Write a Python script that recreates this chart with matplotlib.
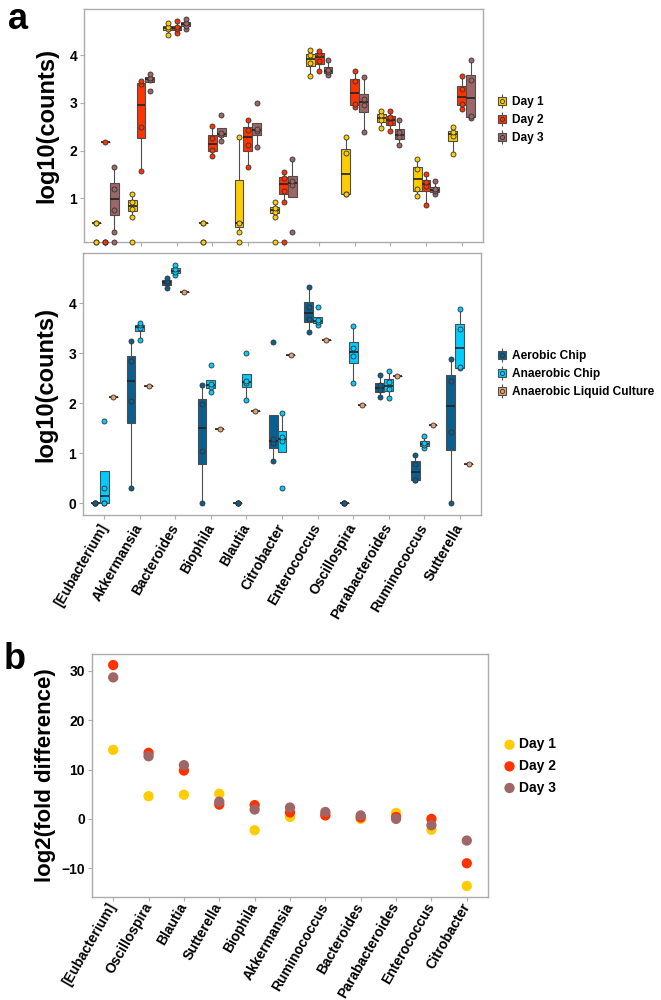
#! /usr/bin/env python3
# -*- coding: utf-8 -*-
import numpy as np
import matplotlib
matplotlib.use('Agg')
import matplotlib.pyplot as plt
from matplotlib.lines import Line2D


##################################################
#################### DATA ########################
##################################################
NEG = -np.inf  # zero counts -> log10(0), drawn on the bottom edge

genera = ['[Eubacterium]', 'Akkermansia', 'Bacteroides', 'Biophila', 'Blautia',
          'Citrobacter', 'Enterococcus', 'Oscillospira', 'Parabacteroides',
          'Ruminococcus', 'Sutterella']

day1_counts = [
    [0.48, 0.48, NEG, NEG],
    [0.60, 0.77, 0.92, 1.09, NEG],
    [4.43, 4.56, 4.60, 4.68],
    [0.48, 0.48, NEG, NEG],
    [0.30, 0.47, 2.29, NEG],
    [0.60, 0.72, 0.79, 0.92, NEG],
    [3.56, 3.84, 4.00, 4.11],
    [1.08, 1.08, 1.95, 2.28],
    [2.48, 2.63, 2.75, 2.82],
    [1.04, 1.19, 1.61, 1.82],
    [1.92, 2.30, 2.38, 2.49],
]
day2_counts = [
    [2.18, NEG, NEG, NEG],
    [1.58, 2.49, 3.40, 3.45],
    [4.47, 4.56, 4.59, 4.71],
    [1.89, 2.02, 2.27, 2.51],
    [1.66, 2.11, 2.44, 2.64],
    [0.91, 1.16, 1.42, 1.54, NEG],
    [3.66, 3.88, 4.03, 4.09],
    [2.92, 2.98, 3.45, 3.66],
    [2.41, 2.58, 2.70, 2.83],
    [0.85, 1.25, 1.33, 1.51],
    [2.87, 2.97, 3.29, 3.57],
]
day3_counts = [
    [0.30, 0.75, 1.20, 1.65, NEG],
    [3.24, 3.49, 3.53, 3.60],
    [4.56, 4.62, 4.68, 4.75],
    [2.21, 2.33, 2.37, 2.75],
    [2.07, 2.40, 2.45, 3.00],
    [0.30, 1.27, 1.35, 1.82],
    [3.58, 3.64, 3.70, 3.91],
    [2.39, 2.95, 3.08, 3.54],
    [2.11, 2.28, 2.38, 2.65],
    [1.08, 1.14, 1.20, 1.35],
    [2.69, 2.72, 3.49, 3.89],
]

aerobic_chip = [
    [0, 0, 0, 0],
    [0.30, 2.05, 2.85, 3.25],
    [4.30, 4.40, 4.45, 4.51],
    [0, 1.04, 1.98, 2.36],
    [0, 0, 0, 0],
    [0.85, 1.20, 1.28, 3.23],
    [3.43, 3.69, 3.92, 4.33],
    [0, 0, 0, 0],
    [2.13, 2.26, 2.36, 2.57],
    [0.47, 0.47, 0.79, 0.96],
    [0, 1.43, 2.45, 2.88],
]
anaerobic_chip = [
    [0, 0, 0.30, 1.65],
    [3.27, 3.50, 3.56, 3.61],
    [4.56, 4.62, 4.68, 4.77],
    [2.23, 2.33, 2.38, 2.76],
    [2.07, 2.41, 2.45, 3.01],
    [0.30, 1.25, 1.33, 1.80],
    [3.57, 3.63, 3.67, 3.92],
    [2.40, 2.95, 3.11, 3.54],
    [2.11, 2.28, 2.42, 2.65],
    [1.10, 1.16, 1.20, 1.35],
    [2.70, 2.72, 3.49, 3.89],
]
liquid_culture = [[2.12], [2.34], [4.23], [1.48], [1.85], [2.96], [3.27],
                  [1.97], [2.54], [1.56], [0.78]]

fold_genera = ['[Eubacterium]', 'Oscillospira', 'Blautia', 'Sutterella',
               'Biophila', 'Akkermansia', 'Ruminococcus', 'Bacteroides',
               'Parabacteroides', 'Enterococcus', 'Citrobacter']
fold_day1 = [14.0, 4.6, 4.9, 5.1, -2.3, 0.4, 0.9, 0.0, 1.2, -2.2, -13.6]
fold_day2 = [31.2, 13.4, 9.8, 2.9, 2.8, 1.3, 0.7, 0.3, 0.4, 0.0, -9.0]
fold_day3 = [28.7, 12.7, 10.9, 3.5, 1.9, 2.3, 1.4, 0.7, 0.0, -1.3, -4.4]

day_labels = ['Day 1', 'Day 2', 'Day 3']
day_colors = ['#FFCC00', '#FF3300', '#9E6666']
cond_labels = ['Aerobic Chip', 'Anaerobic Chip', 'Anaerobic Liquid Culture']
cond_colors = ['#0B5F8F', '#00CCFF', '#E3A26D']

plt.rcParams['font.family'] = ['Liberation Sans', 'DejaVu Sans']
plt.rcParams['font.weight'] = 'bold'
plt.rcParams['axes.labelweight'] = 'bold'

EDGE = '#4D4D4D'
FRAME = '#ABABAB'


##################################################
#################### FUNCTIONS ###################
##################################################


def style_axes(ax):
    for sp in ax.spines.values():
        sp.set_color(FRAME)
        sp.set_linewidth(1.0)
    ax.tick_params(axis='both', direction='out', length=3, width=0.8,
                   color=FRAME, labelsize=10, labelcolor='black', pad=2)
    for lab in ax.get_yticklabels():
        lab.set_fontweight('bold')


def draw_boxes(ax, groups, colors, ybottom):
    n = len(groups)
    offsets = (np.arange(n) - (n - 1) / 2) * 0.25
    for data, color, off in zip(groups, colors, offsets):
        pos = np.arange(len(genera)) + off
        finite = [[v for v in d if np.isfinite(v)] for d in data]
        bp = ax.boxplot(finite, positions=pos, widths=0.25, patch_artist=True,
                        showfliers=False, showcaps=False, manage_ticks=False)
        for box in bp['boxes']:
            box.set(facecolor=color, edgecolor=EDGE, linewidth=0.8, zorder=2)
        for w in bp['whiskers']:
            w.set(color=EDGE, linewidth=0.8, zorder=1.5)
        for m in bp['medians']:
            m.set(color='#222222', linewidth=1.2, zorder=2.5)
        for p, d in zip(pos, data):
            ys = [v if np.isfinite(v) else ybottom for v in d]
            ax.scatter([p] * len(ys), ys, s=13, color=color, edgecolors='#333333',
                       linewidths=0.6, zorder=3, clip_on=False)


def box_handle(color):
    return (Line2D([], [], color=EDGE, marker='|', markersize=10, mew=0.8,
                   linestyle='None'),
            Line2D([], [], marker='s', markersize=6, markerfacecolor=color,
                   markeredgecolor=EDGE, mew=0.8, linestyle='None'),
            Line2D([], [], marker='o', markersize=3, markerfacecolor=color,
                   markeredgecolor='#333333', mew=0.6, linestyle='None'))


##################################################
#################### MAIN FUNCTION ###############
##################################################


def main():
    fig = plt.figure(figsize=(6.61, 10), dpi=100)
    x = np.arange(len(genera))

    # panel a, top: days
    ax1 = fig.add_axes([84 / 661, 1 - 242 / 1000, 399 / 661, 233 / 1000])
    ylim1 = (0.08, 4.97)
    draw_boxes(ax1, [day1_counts, day2_counts, day3_counts], day_colors, ylim1[0])
    ax1.set_xlim(-0.6, 10.6)
    ax1.set_ylim(*ylim1)
    ax1.set_xticks(x)
    ax1.set_xticklabels([])
    ax1.set_yticks([1, 2, 3, 4])
    ax1.set_ylabel('log10(counts)', fontsize=17, fontweight='bold')
    ax1.yaxis.set_label_coords(-0.065, 0.5)
    style_axes(ax1)
    fig.legend([box_handle(c) for c in day_colors], day_labels,
               loc='center left', bbox_to_anchor=(489 / 661, 1 - 120 / 1000),
               frameon=False, handlelength=1.1, handletextpad=0.35,
               labelspacing=0.5, borderpad=0, prop={'weight': 'bold', 'size': 8.6})

    # panel a, bottom: conditions
    ax2 = fig.add_axes([83 / 661, 1 - 515 / 1000, 398 / 661, 262 / 1000])
    ylim2 = (-0.24, 5.01)
    draw_boxes(ax2, [aerobic_chip, anaerobic_chip, liquid_culture], cond_colors,
               ylim2[0])
    ax2.set_xlim(-0.6, 10.6)
    ax2.set_ylim(*ylim2)
    ax2.set_xticks(x)
    ax2.set_xticklabels(genera, rotation=60, ha='right', va='center',
                        rotation_mode='anchor', fontweight='bold')
    ax2.set_yticks([0, 1, 2, 3, 4])
    ax2.set_ylabel('log10(counts)', fontsize=17, fontweight='bold')
    ax2.yaxis.set_label_coords(-0.065, 0.5)
    style_axes(ax2)
    ax2.tick_params(axis='x', pad=4)
    fig.legend([box_handle(c) for c in cond_colors], cond_labels,
               loc='center left', bbox_to_anchor=(489 / 661, 1 - 374 / 1000),
               frameon=False, handlelength=1.1, handletextpad=0.35,
               labelspacing=0.5, borderpad=0, prop={'weight': 'bold', 'size': 8.6})

    # panel b: fold difference
    ax3 = fig.add_axes([92 / 661, 1 - 897 / 1000, 396 / 661, 243 / 1000])
    xf = np.arange(len(fold_genera))
    for vals, color, lab in zip([fold_day1, fold_day2, fold_day3], day_colors,
                                day_labels):
        ax3.scatter(xf, vals, s=55, color=color, edgecolors='none', label=lab,
                    zorder=3)
    ax3.set_xlim(-0.6, 10.6)
    ax3.set_ylim(-15.84, 33.44)
    ax3.set_xticks(xf)
    ax3.set_xticklabels(fold_genera, rotation=60, ha='right', va='center',
                        rotation_mode='anchor', fontweight='bold')
    ax3.set_yticks([-10, 0, 10, 20, 30])
    ax3.set_ylabel('log2(fold difference)', fontsize=16, fontweight='bold')
    ax3.yaxis.set_label_coords(-0.09, 0.5)
    style_axes(ax3)
    ax3.tick_params(axis='x', pad=2)
    fig.legend(*ax3.get_legend_handles_labels(), loc='center left',
               bbox_to_anchor=(497 / 661, 1 - 766 / 1000), frameon=False,
               handlelength=0.8, handletextpad=0.25, labelspacing=0.55,
               borderpad=0, scatterpoints=1,
               prop={'weight': 'bold', 'size': 10})

    fig.text(0.012, 0.998, 'a', fontsize=26, fontweight='bold', ha='left', va='top')
    fig.text(0.006, 0.358, 'b', fontsize=26, fontweight='bold', ha='left', va='top')

    fig.savefig('out.png', dpi=100)


if __name__ == '__main__':
    main()
